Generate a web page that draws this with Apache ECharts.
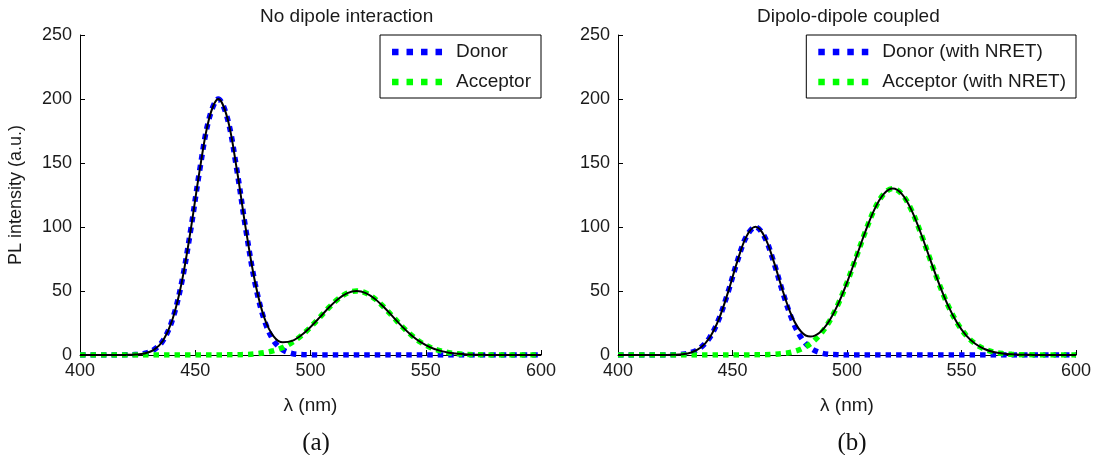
<!DOCTYPE html>
<html>
<head>
<meta charset="utf-8">
<script src="https://cdn.jsdelivr.net/npm/echarts@6/dist/echarts.min.js"></script>
<style>
  html, body { margin: 0; padding: 0; background: #fff; }
  #chart { width: 1099px; height: 455px; }
</style>
</head>
<body>
<div id="chart"></div>
<script>
// Wavelength grid (nm)
const wavelength = [];
for (let w = 400; w <= 600; w += 4) wavelength.push(w);

// Panel (a): no dipole interaction
const donorA = [0,0,0,0,0, 0.1,0.3,1.2,4.0,11.2,27.1,55.6,97.4,145.2,184.6,200,184.6,145.2,97.4,55.6,27.1,11.2,4.0,1.2,0.3,0.1,
  0,0,0,0,0,0,0,0,0,0,0,0,0,0,0,0,0,0,0,0,0,0,0,0,0];
const acceptorA = [0,0,0,0,0,0,0,0,0,0,0,0,0,0, 0,0.03,0.1,0.2,0.4,0.9,1.8,3.4,5.9,9.8,15.1,21.8,29.4,37.1,43.8,48.4,50,
  48.4,43.8,37.1,29.4,21.8,15.1,9.8,5.9,3.4,1.8,0.9,0.4,0.2,0.1,0.03, 0,0,0,0,0];
const totalA = [0,0,0,0,0, 0.1,0.3,1.2,4.0,11.2,27.1,55.6,97.4,145.2,184.6,200,184.7,145.4,97.8,56.5,28.9,14.6,9.9,11.0,15.4,21.9,29.4,37.1,43.8,48.4,50,
  48.4,43.8,37.1,29.4,21.8,15.1,9.8,5.9,3.4,1.8,0.9,0.4,0.2,0.1,0.03, 0,0,0,0,0];

// Panel (b): dipole-dipole coupled
const donorB = [0,0,0,0,0, 0,0.2,0.6,2.0,5.6,13.5,27.8,48.7,72.6,92.3,100,92.3,72.6,48.7,27.8,13.5,5.6,2.0,0.6,0.2,0,
  0,0,0,0,0,0,0,0,0,0,0,0,0,0,0,0,0,0,0,0,0,0,0,0,0];
const acceptorB = [0,0,0,0,0,0,0,0,0,0,0,0,0,0, 0,0.1,0.2,0.5,1.1,2.3,4.7,8.8,15.4,25.4,39.2,56.6,76.3,96.3,113.8,125.7,130,
  125.7,113.8,96.3,76.3,56.6,39.2,25.4,15.4,8.8,4.7,2.3,1.1,0.5,0.2,0.1, 0,0,0,0,0];
const totalB = [0,0,0,0,0, 0,0.2,0.6,2.0,5.6,13.5,27.8,48.7,72.6,92.3,100.1,92.5,73.1,49.8,30.1,18.2,14.4,17.4,26.0,39.4,56.6,76.3,96.3,113.8,125.7,130,
  125.7,113.8,96.3,76.3,56.6,39.2,25.4,15.4,8.8,4.7,2.3,1.1,0.5,0.2,0.1, 0,0,0,0,0];

const panelTitles = ['No dipole interaction', 'Dipolo-dipole coupled'];
const panelTags = ['(a)', '(b)'];
const legendNames = [['Donor', 'Acceptor'], ['Donor (with NRET)', 'Acceptor (with NRET)']];

const BLUE = '#0000ff', GREEN = '#00ff00';
const FONT = '"Liberation Sans", Arial, sans-serif';
const SERIF = '"Liberation Serif", "Times New Roman", serif';
const TXT = '#1a1a1a';
// four square dots, like a ':' line sample
const dotIcon = 'path://M0,0h6.5v6.5h-6.5z M14.5,0h6.5v6.5h-6.5z M29,0h6.5v6.5h-6.5z M43.5,0h6.5v6.5h-6.5z';

const pairs = arr => wavelength.map((w, i) => [w, arr[i]]);

function dotted(name, color, data, idx) {
  return {
    name, type: 'line', xAxisIndex: idx, yAxisIndex: idx,
    data: pairs(data), showSymbol: false, smooth: 0.35,
    color, z: 2,
    lineStyle: { color, width: 5.5, type: [5.5, 5], cap: 'butt' }
  };
}
function solid(data, idx) {
  return {
    name: 'Total' + idx, type: 'line', xAxisIndex: idx, yAxisIndex: idx,
    data: pairs(data), showSymbol: false, smooth: 0.35,
    color: '#000', z: 3,
    lineStyle: { color: '#000', width: 2 }
  };
}

const axisCommon = {
  axisLine: { show: true, lineStyle: { color: '#000', width: 1 } },
  axisTick: { show: true, inside: true, length: 5, lineStyle: { color: '#000' } },
  splitLine: { show: false }
};
const tickLabel = { color: TXT, fontFamily: FONT, fontSize: 18 };
const titleStyle = { fontFamily: FONT, fontSize: 19, fontWeight: 'normal', color: TXT };
const tagStyle = { fontFamily: SERIF, fontSize: 25, fontWeight: 'normal', color: '#111' };

const option = {
  backgroundColor: '#fff',
  animation: false,
  title: [
    { text: panelTitles[0], left: 255, top: 2, textStyle: titleStyle },
    { text: panelTitles[1], left: 752, top: 2, textStyle: titleStyle },
    { text: panelTags[0], left: 311, top: 426, textAlign: 'center', textStyle: tagStyle },
    { text: panelTags[1], left: 847, top: 426, textAlign: 'center', textStyle: tagStyle }
  ],
  legend: [0, 1].map(i => ({
    data: legendNames[i].map(n => ({ name: n, icon: dotIcon })),
    orient: 'vertical',
    right: i === 0 ? 558 : 23, top: 35,
    itemWidth: 50, itemHeight: 6.5, itemGap: 10,
    padding: [7, 10, 6, 12],
    borderColor: '#000', borderWidth: 1, borderRadius: 0,
    backgroundColor: '#fff',
    textStyle: { fontFamily: FONT, fontSize: 19, color: TXT, lineHeight: 20, padding: [0, 0, 0, 9] },
    selectedMode: false
  })),
  grid: [
    { left: 80, right: 558, top: 35, bottom: 100 },
    { left: 618, right: 23, top: 35, bottom: 100 }
  ],
  xAxis: [0, 1].map(i => Object.assign({
    type: 'value', gridIndex: i, min: 400, max: 600, interval: 50,
    name: 'λ (nm)', nameLocation: 'middle', nameGap: 41,
    nameTextStyle: { fontFamily: FONT, fontSize: 19, color: TXT },
    axisLabel: Object.assign({ margin: 7 }, tickLabel)
  }, axisCommon)),
  yAxis: [0, 1].map(i => Object.assign({
    type: 'value', gridIndex: i, min: 0, max: 250, interval: 50,
    name: i === 0 ? 'PL intensity (a.u.)' : '', nameLocation: 'middle', nameGap: 55,
    nameTextStyle: { fontFamily: FONT, fontSize: 18, color: TXT },
    axisLabel: Object.assign({ margin: 8 }, tickLabel)
  }, axisCommon)),
  series: [
    dotted(legendNames[0][0], BLUE, donorA, 0),
    dotted(legendNames[0][1], GREEN, acceptorA, 0),
    solid(totalA, 0),
    dotted(legendNames[1][0], BLUE, donorB, 1),
    dotted(legendNames[1][1], GREEN, acceptorB, 1),
    solid(totalB, 1)
  ]
};

const chart = echarts.init(document.getElementById('chart'), null, { renderer: 'canvas' });
chart.setOption(option);
</script>
</body>
</html>
